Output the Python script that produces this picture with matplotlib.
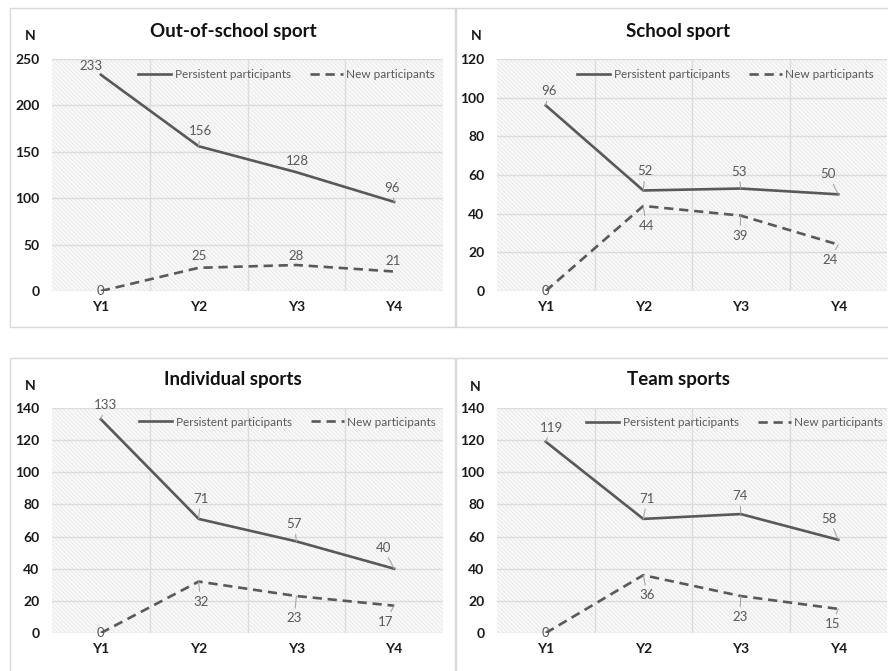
import numpy as np
import matplotlib.pyplot as plt
from matplotlib.patches import Rectangle

plt.rcParams['font.family'] = ['Lato', 'DejaVu Sans']
plt.rcParams['hatch.linewidth'] = 0.5
plt.rcParams['hatch.color'] = '#e3e3e3'

years = ['Y1', 'Y2', 'Y3', 'Y4']
titles = ['Out-of-school sport', 'School sport', 'Individual sports', 'Team sports']
persistent = [[233, 156, 128, 96],
              [96, 52, 53, 50],
              [133, 71, 57, 40],
              [119, 71, 74, 58]]
new = [[0, 25, 28, 21],
       [0, 44, 39, 24],
       [0, 32, 23, 17],
       [0, 36, 23, 15]]
ymax = [250, 120, 140, 140]
ystep = [50, 20, 20, 20]

# layout in pixels (left, right, top, bottom) of each plot area
W, H = 888, 671
boxes = [(52, 443, 59, 291), (497, 887, 59, 291),
         (52, 443, 408, 633), (497, 887, 408, 633)]
title_pos = [(233, 31), (678, 31), (233, 380), (678, 380)]
n_pos = [(30, 36), (476, 36), (30, 386), (475, 387)]
legend_pos = [(435, 75), (874, 75), (436, 422), (883, 423)]
# label offsets in pixels (dx, dy)
p_off = [[(-10, 9), (2, 15), (1, 11), (-2, 14)],
         [(3, 14), (2, 19), (-2, 17), (-10, 20)],
         [(5, 14), (2, 20), (-2, 17), (-11, 21)],
         [(6, 14), (4, 20), (-1, 18), (-9, 21)]]
n_off = [[(0, 0), (0, 12), (0, 9), (-1, 11)],
         [(0, 0), (3, -20), (-1, -20), (-8, -15)],
         [(0, 0), (2, -20), (-2, -22), (-9, -16)],
         [(0, 0), (4, -20), (-1, -21), (-6, -15)]]

line_col = '#595959'
fig = plt.figure(figsize=(W / 100, H / 100), dpi=100)

# panel borders
for (x0, x1, y0, y1) in [(10, 455, 8, 327), (456, 890, 8, 327),
                         (10, 455, 358, 680), (456, 890, 358, 680)]:
    fig.patches.append(Rectangle((x0 / W, 1 - y1 / H), (x1 - x0) / W, (y1 - y0) / H,
                                 transform=fig.transFigure, fill=False,
                                 edgecolor='#d9d9d9', lw=1.0))

x = np.arange(len(years))
for i in range(4):
    l, r, t, b = boxes[i]
    ax = fig.add_axes([l / W, 1 - b / H, (r - l) / W, (b - t) / H])
    ax.add_patch(Rectangle((0, 0), 1, 1, transform=ax.transAxes, facecolor='#f9f9f9',
                           hatch='\\' * 8, edgecolor='#e3e3e3', lw=0, zorder=0))
    ax.set_xlim(-0.5, 3.5)
    ax.set_ylim(0, ymax[i])
    ax.set_yticks(np.arange(0, ymax[i] + 1, ystep[i]))
    ax.set_xticks(x)
    ax.set_xticklabels(years)
    ax.set_xticks([0.5, 1.5, 2.5], minor=True)
    ax.grid(True, which='major', axis='y', color='#dcdcdc', lw=1.0, zorder=1)
    ax.grid(True, which='minor', axis='x', color='#dcdcdc', lw=1.0, zorder=1)
    for s in ax.spines.values():
        s.set_visible(False)
    ax.tick_params(which='both', length=0)
    ax.tick_params(axis='y', pad=9)
    ax.tick_params(axis='x', pad=7)
    for lab in ax.get_xticklabels() + ax.get_yticklabels():
        lab.set_fontweight('bold')
        lab.set_fontsize(10)
        lab.set_color('#1a1a1a')

    ax.plot(x, persistent[i], color=line_col, lw=1.9, label='Persistent participants', zorder=3)
    ln, = ax.plot(x, new[i], color=line_col, lw=1.9, label='New participants', zorder=3)
    ln.set_dashes([3.5, 2.2])

    for series, offs in ((persistent[i], p_off[i]), (new[i], n_off[i])):
        for j, v in enumerate(series):
            dx, dy = offs[j]
            arrow = None
            if dx * dx + dy * dy > 190:
                arrow = dict(arrowstyle='-', color='#a6a6a6', lw=0.8, shrinkA=1, shrinkB=0)
            ax.annotate(str(v), (j, v), xytext=(dx, dy), textcoords='offset pixels',
                        ha='center', va='center', fontsize=9.5, color='#595959',
                        arrowprops=arrow, zorder=4)

    lx, ly = legend_pos[i]
    leg = ax.legend(loc='center right', ncol=2, frameon=False, fontsize=8.5,
                    bbox_to_anchor=((lx - l) / (r - l), (b - ly) / (b - t)),
                    borderaxespad=0, borderpad=0, handlelength=2.8,
                    handletextpad=0.3, columnspacing=1.6)
    for txt in leg.get_texts():
        txt.set_color('#595959')

    tx, ty = title_pos[i]
    fig.text(tx / W, 1 - ty / H, titles[i], ha='center', va='center',
             fontsize=13.5, fontweight='bold', color='#111111')
    nx, ny = n_pos[i]
    fig.text(nx / W, 1 - ny / H, 'N', ha='center', va='center',
             fontsize=10, fontweight='bold', color='#1a1a1a')

fig.savefig('out.png', dpi=100, facecolor='white')
